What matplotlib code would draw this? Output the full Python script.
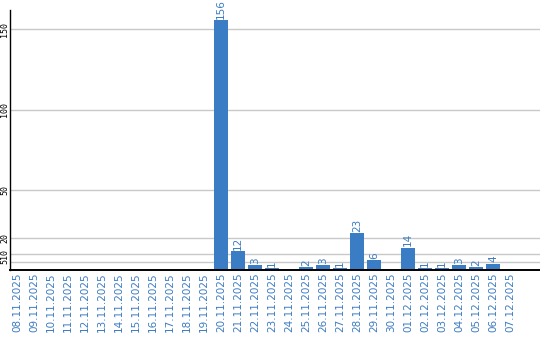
import numpy as np
import matplotlib
matplotlib.use("Agg")
import matplotlib.pyplot as plt

# Data
dates = ["08.11.2025", "09.11.2025", "10.11.2025", "11.11.2025", "12.11.2025",
         "13.11.2025", "14.11.2025", "15.11.2025", "16.11.2025", "17.11.2025",
         "18.11.2025", "19.11.2025", "20.11.2025", "21.11.2025", "22.11.2025",
         "23.11.2025", "24.11.2025", "25.11.2025", "26.11.2025", "27.11.2025",
         "28.11.2025", "29.11.2025", "30.11.2025", "01.12.2025", "02.12.2025",
         "03.12.2025", "04.12.2025", "05.12.2025", "06.12.2025", "07.12.2025"]
counts = [0, 0, 0, 0, 0, 0, 0, 0, 0, 0, 0, 0,
          156, 12, 3, 1, 0, 2, 3, 1, 23, 6, 0, 14, 1, 1, 3, 2, 4, 0]
y_ticks = [5, 10, 20, 50, 100, 150]

bar_color = "#3b7dc4"
text_color = "#3d7cc2"

fig = plt.figure(figsize=(5.4, 3.4), dpi=100)
ax = fig.add_axes([10 / 540, 70 / 340, 530 / 540, 260 / 340])

x = np.arange(len(dates))
ax.bar(x, counts, width=0.82, color=bar_color, zorder=2)

for xi, v in zip(x, counts):
    if v > 0:
        ax.annotate(str(v), (xi, v), xytext=(0, 0.8), textcoords="offset points",
                    rotation=90, ha="center", va="bottom", fontsize=7.5,
                    color=text_color, annotation_clip=False, clip_on=False)

ax.set_xlim(-0.41, 30.76)
ax.set_ylim(0, 162)
ax.set_yticks(y_ticks)
ax.set_yticklabels([str(t) for t in y_ticks], rotation=90, va="center",
                   fontsize=6, family="DejaVu Sans Mono")
ax.set_xticks(x)
ax.set_xticklabels(dates, rotation=90, fontsize=7.5, color=text_color)
ax.tick_params(axis="both", length=0, pad=2)
ax.tick_params(axis="y", pad=0.5)

ax.grid(axis="y", color="#c8c8c8", linewidth=1.0, zorder=0)
ax.set_axisbelow(True)
for side in ["top", "right"]:
    ax.spines[side].set_visible(False)
ax.spines["left"].set_linewidth(1.0)
ax.spines["bottom"].set_linewidth(1.4)

fig.savefig("out.png", dpi=100)
